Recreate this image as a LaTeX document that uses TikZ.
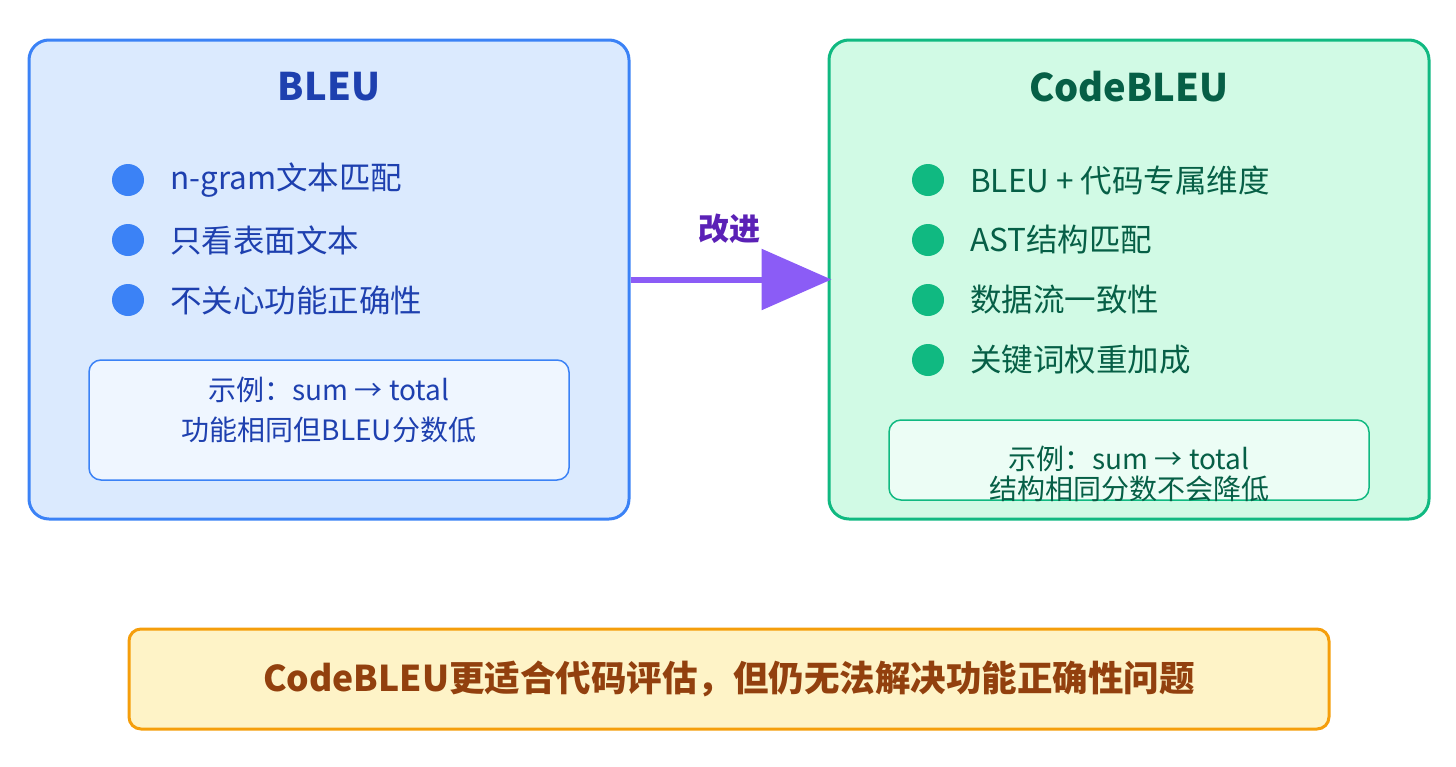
\documentclass[tikz,border=0pt]{standalone}
\usepackage{fontspec}
\setmainfont{Noto Sans CJK SC}
\usepackage{tikz}
\usetikzlibrary{arrows.meta,positioning}
\definecolor{bleuline}{HTML}{3B82F6}
\definecolor{bleufill}{HTML}{DBEAFE}
\definecolor{bleutext}{HTML}{1E40AF}
\definecolor{bleuinner}{HTML}{EFF6FF}
\definecolor{codeline}{HTML}{10B981}
\definecolor{codefill}{HTML}{D1FAE5}
\definecolor{codetext}{HTML}{065F46}
\definecolor{codeinner}{HTML}{ECFDF5}
\definecolor{improve}{HTML}{8B5CF6}
\definecolor{improvetext}{HTML}{5B21B6}
\definecolor{notefill}{HTML}{FEF3C7}
\definecolor{noteline}{HTML}{F59E0B}
\definecolor{notetext}{HTML}{92400E}
\tikzset{
  panel/.style={draw,line width=3pt,rounded corners=20pt,minimum width=600pt,minimum height=479pt},
  example/.style={draw,line width=1.5pt,rounded corners=12pt,minimum width=480pt},
  dot/.style={circle,inner sep=0pt,minimum size=32pt},
  item/.style={anchor=west,inner sep=0pt,font=\fontsize{31.5}{36}\selectfont},
  title/.style={font=\bfseries\fontsize{38}{44}\selectfont},
}
\begin{document}
\begin{tikzpicture}[x=1pt,y=-1pt]
  \useasboundingbox (0,0) rectangle (1456,766);
  % left panel: BLEU
  \node[panel,draw=bleuline,fill=bleufill] (bleu) at (329,279.5) {};
  \node[title,text=bleutext] (bleutitle) at (329,87) {BLEU};
  \node[dot,fill=bleuline] (bdot1) at (128,180) {};
  \node[dot,fill=bleuline] (bdot2) at (128,240) {};
  \node[dot,fill=bleuline] (bdot3) at (128,300) {};
  \node[item,text=bleutext] (bitem1) at (170,180) {n-gram文本匹配};
  \node[item,text=bleutext] (bitem2) at (170,240) {只看表面文本};
  \node[item,text=bleutext] (bitem3) at (170,300) {不关心功能正确性};
  \node[example,draw=bleuline,fill=bleuinner,minimum height=120pt] (bex) at (329,420) {};
  \node[text=bleutext,font=\fontsize{28}{40}\selectfont,align=center] (bextext) at (329,410)
    {示例：sum → total\\功能相同但BLEU分数低};
  % right panel: CodeBLEU
  \node[panel,draw=codeline,fill=codefill] (code) at (1129,279.5) {};
  \node[title,text=codetext] (codetitle) at (1129,87) {CodeBLEU};
  \node[dot,fill=codeline] (cdot1) at (928,180) {};
  \node[dot,fill=codeline] (cdot2) at (928,240) {};
  \node[dot,fill=codeline] (cdot3) at (928,300) {};
  \node[dot,fill=codeline] (cdot4) at (928,360) {};
  \node[item,text=codetext] (citem1) at (970,180) {BLEU + 代码专属维度};
  \node[item,text=codetext] (citem2) at (970,240) {AST结构匹配};
  \node[item,text=codetext] (citem3) at (970,300) {数据流一致性};
  \node[item,text=codetext] (citem4) at (970,360) {关键词权重加成};
  \node[example,draw=codeline,fill=codeinner,minimum height=80pt] (cex) at (1129,460) {};
  \node[text=codetext,font=\fontsize{28}{30}\selectfont,align=center] (cextext) at (1129,474)
    {示例：sum → total\\结构相同分数不会降低};
  % arrow
  \draw[improve,line width=6pt,-{Triangle[length=70pt,width=60pt]}] (bleu.east) -- ([xshift=4pt]code.west);
  \node[text=improvetext,font=\bfseries\fontsize{31}{36}\selectfont] (improvelabel) at (729,229) {改进};
  % conclusion
  \node[draw=noteline,fill=notefill,line width=3pt,rounded corners=12pt,minimum width=1200pt,minimum height=100pt,
    text=notetext,font=\bfseries\fontsize{35.5}{40}\selectfont] (note) at (729,679)
    {CodeBLEU更适合代码评估，但仍无法解决功能正确性问题};
\end{tikzpicture}
\end{document}
